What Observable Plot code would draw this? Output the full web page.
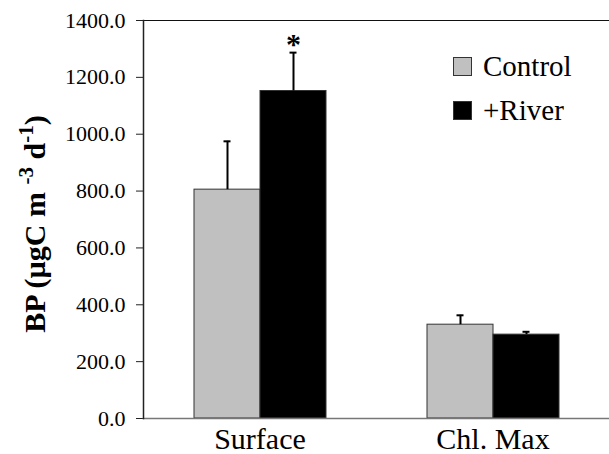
<!DOCTYPE html>
<html><head><meta charset="utf-8">
<style>
body{margin:0;background:#fff;}
#wrap{position:relative;width:609px;height:454px;font-family:"Liberation Serif";}
#legend{position:absolute;left:453px;top:44px;font-size:29px;line-height:1;font-family:"Liberation Serif";}
.item{display:flex;align-items:center;height:44px;}
.sw{width:17px;height:17px;border:1px solid #333;margin-right:11px;}
</style>
<script src="https://cdn.jsdelivr.net/npm/d3@7"></script>
<script src="https://cdn.jsdelivr.net/npm/@observablehq/plot@0.6"></script>
</head><body><div id="wrap"></div>
<script>
const groups = ["Surface", "Chl. Max"];
const series = ["Control", "+River"];
const controlValues = [805, 330];
const controlErrors = [170, 33];
const riverValues = [1152, 295];
const riverErrors = [135, 10];
const riverSignificance = ["*", ""];
const yTicks = [0, 200, 400, 600, 800, 1000, 1200, 1400];
const colors = ["#c0c0c0", "#000000"];

const data = [];
groups.forEach((g, i) => {
  data.push({group: g, series: series[0], value: controlValues[i], err: controlErrors[i], sig: ""});
  data.push({group: g, series: series[1], value: riverValues[i], err: riverErrors[i], sig: riverSignificance[i]});
});

const plot = Plot.plot({
  width: 609, height: 454,
  marginLeft: 143, marginRight: 0, marginTop: 20, marginBottom: 36,
  style: {fontFamily: "Liberation Serif", background: "white", color: "#000", overflow: "visible"},
  fx: {domain: groups, padding: 0, label: null},
  x: {domain: series, paddingInner: 0, paddingOuter: 0.74, axis: null},
  y: {domain: [0, 1400], label: null},
  color: {domain: series, range: colors},
  marks: [
    Plot.barY(data, {fx: "group", x: "series", y: "value", fill: "series", stroke: "#333", strokeWidth: 1}),
    Plot.ruleX(data, {fx: "group", x: "series", y1: "value", y2: d => d.value + d.err, stroke: "#000", strokeWidth: 2}),
    Plot.tickY(data, {fx: "group", x: "series", y: d => d.value + d.err, stroke: "#000", strokeWidth: 2, insetLeft: 29.5, insetRight: 29.5}),
    Plot.text(data, {fx: "group", x: "series", y: d => d.value + d.err, text: "sig", dy: -8, fontSize: 30, fontWeight: "bold", fill: "#000"}),
    Plot.axisY({ticks: yTicks, tickFormat: d => d.toFixed(1), tickSize: 7, tickPadding: 11, fontSize: 22, label: null, stroke: "#222"}),
    Plot.axisFx({anchor: "bottom", tickSize: 0, tickPadding: 9, fontSize: 30, label: null}),
    Plot.frame({anchor: "top", facet: "super", stroke: "#111"}),
    Plot.frame({anchor: "bottom", facet: "super", stroke: "#777", strokeWidth: 1.5}),
    Plot.frame({anchor: "left", facet: "super", stroke: "#222", strokeWidth: 1.5})
  ]
});
plot.setAttribute("font-family", "Liberation Serif");

const svg = d3.select(plot);
const t = svg.append("text")
  .attr("transform", "translate(45,224) rotate(-90)")
  .attr("text-anchor", "middle")
  .attr("font-size", 30)
  .attr("font-weight", "bold")
  .attr("font-family", "Liberation Serif")
  .attr("fill", "#000");
t.append("tspan").text("BP (µgC m ");
t.append("tspan").attr("font-size", 21).attr("dy", -12).text("-3");
t.append("tspan").attr("dy", 12).text(" d");
t.append("tspan").attr("font-size", 21).attr("dy", -12).text("-1");
t.append("tspan").attr("dy", 12).text(")");

const wrap = document.getElementById("wrap");
wrap.appendChild(plot);
const legend = document.createElement("div");
legend.id = "legend";
series.forEach((s, i) => {
  const item = document.createElement("div");
  item.className = "item";
  const sw = document.createElement("div");
  sw.className = "sw";
  sw.style.background = colors[i];
  const lab = document.createElement("span");
  lab.textContent = s;
  item.appendChild(sw);
  item.appendChild(lab);
  legend.appendChild(item);
});
wrap.appendChild(legend);
</script></body></html>
